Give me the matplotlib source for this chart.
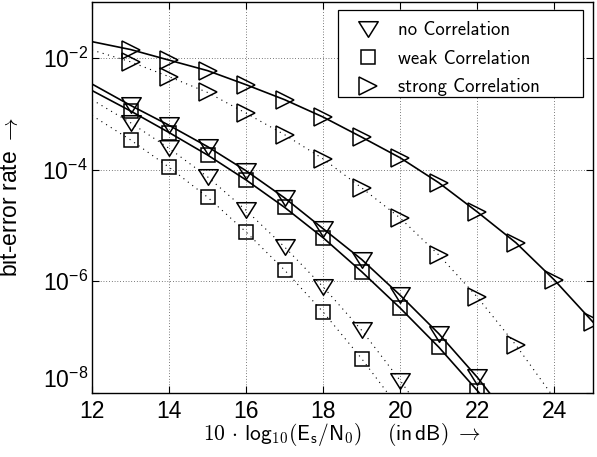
import numpy as np
import matplotlib
matplotlib.use('Agg')
import matplotlib.pyplot as plt
from matplotlib.lines import Line2D
from matplotlib.path import Path
from matplotlib.patches import Rectangle

plt.rcParams['mathtext.fontset'] = 'cm'

# ---------------- data (bit-error rate) ----------------
# strong correlation
x_strong_solid = [13, 14, 15, 16, 17, 18, 19, 20, 21, 22, 23, 24, 25]
ber_strong_solid = [1.41e-2, 9.1e-3, 5.9e-3, 3.3e-3, 1.78e-3, 8.7e-4, 3.8e-4,
                    1.62e-4, 5.8e-5, 1.74e-5, 4.9e-6, 1.05e-6, 1.86e-7]
xl_strong_solid = [12] + x_strong_solid
bl_strong_solid = [1.95e-2] + ber_strong_solid

x_strong_dot = [13, 14, 15, 16, 17, 18, 19, 20, 21, 22, 23]
ber_strong_dot = [8.5e-3, 4.6e-3, 2.4e-3, 1.02e-3, 4.2e-4, 1.55e-4, 4.7e-5,
                  1.35e-5, 2.95e-6, 5.2e-7, 7.2e-8]
xl_strong_dot = [12] + x_strong_dot + [24]
bl_strong_dot = [1.38e-2] + ber_strong_dot + [8e-9]

# no correlation
x_no_solid = [13, 14, 15, 16, 17, 18, 19, 20, 21, 22]
ber_no_solid = [1.41e-3, 6.2e-4, 2.57e-4, 9.5e-5, 3.1e-5, 8.7e-6, 2.45e-6,
                5.6e-7, 1.15e-7, 1.9e-8]
xl_no_solid = [12] + x_no_solid + [23]
bl_no_solid = [3.4e-3] + ber_no_solid + [2.5e-9]

x_no_dot = [13, 14, 15, 16, 17, 18, 19, 20]
ber_no_dot = [6.9e-4, 2.4e-4, 7.4e-5, 1.86e-5, 4.1e-6, 7.9e-7, 1.32e-7, 1.66e-8]
xl_no_dot = [12] + x_no_dot + [21]
bl_no_dot = [1.78e-3] + ber_no_dot + [1.8e-9]

# weak correlation
x_weak_solid = [13, 14, 15, 16, 17, 18, 19, 20, 21, 22]
ber_weak_solid = [1.12e-3, 4.6e-4, 1.82e-4, 6.5e-5, 2.1e-5, 6.0e-6, 1.48e-6,
                  3.3e-7, 6.6e-8, 1.1e-8]
xl_weak_solid = [12] + x_weak_solid + [23]
bl_weak_solid = [2.6e-3] + ber_weak_solid + [1.6e-9]

x_weak_dot = [13, 14, 15, 16, 17, 18, 19]
ber_weak_dot = [3.4e-4, 1.1e-4, 3.2e-5, 7.6e-6, 1.58e-6, 2.8e-7, 4.1e-8]
xl_weak_dot = [12] + x_weak_dot + [20]
bl_weak_dot = [9.3e-4] + ber_weak_dot + [5e-9]

legend_labels = ['no Correlation', 'weak Correlation', 'strong Correlation']
x_ticks = [12, 14, 16, 18, 20, 22, 24]
y_ticks = [1e-8, 1e-6, 1e-4, 1e-2]

# ---------------- styles ----------------
tri_down = Path([(-1, 0.8), (1, 0.8), (0, -0.8), (-1, 0.8)],
                [Path.MOVETO, Path.LINETO, Path.LINETO, Path.CLOSEPOLY])
mk = {
    'no': dict(marker=tri_down, ms=14),
    'weak': dict(marker='s', ms=10),
    'strong': dict(marker='>', ms=13.5),
}
mcommon = dict(ls='none', mfc='none', mec='k', mew=1.1)
solid = dict(color='k', lw=1.2, ls='-')
dotted = dict(color='k', lw=0.8, ls=(0, (1, 4)))

W, H = 597, 457
fig = plt.figure(figsize=(W / 100, H / 100), dpi=100)
AX_L, AX_R, AX_T, AX_B = 92, 593, 2, 393
ax = fig.add_axes([AX_L / W, 1 - AX_B / H, (AX_R - AX_L) / W, (AX_B - AX_T) / H])


def ax_x(px):
    return (px - AX_L) / (AX_R - AX_L)


def ax_y(py):
    return (AX_B - py) / (AX_B - AX_T)


ax.set_yscale('log')
ax.set_xlim(12, 25)
ax.set_ylim(1e-8, 1e-1)

# lines
ax.plot(xl_strong_solid, bl_strong_solid, **solid)
ax.plot(xl_strong_dot, bl_strong_dot, **dotted)
ax.plot(xl_no_solid, bl_no_solid, **solid)
ax.plot(xl_no_dot, bl_no_dot, **dotted)
ax.plot(xl_weak_solid, bl_weak_solid, **solid)
ax.plot(xl_weak_dot, bl_weak_dot, **dotted)

# markers
ax.plot(x_strong_solid, ber_strong_solid, **mk['strong'], **mcommon)
ax.plot(x_strong_dot, ber_strong_dot, **mk['strong'], **mcommon)
ax.plot(x_no_solid, ber_no_solid, **mk['no'], **mcommon)
ax.plot(x_no_dot, ber_no_dot, **mk['no'], **mcommon)
ax.plot(x_weak_solid, ber_weak_solid, **mk['weak'], **mcommon)
ax.plot(x_weak_dot, ber_weak_dot, **mk['weak'], **mcommon)

# axes styling
ax.set_xticks(x_ticks)
ax.set_yticks(y_ticks)
ax.minorticks_off()
ax.tick_params(direction='in', length=5, width=0.8, top=True, right=True,
               labelsize=16.5, pad=5)
ax.tick_params(axis='y', pad=3)
for lab in ax.get_xticklabels() + ax.get_yticklabels():
    lab.set_fontfamily(['Liberation Sans', 'DejaVu Sans'])
ax.yaxis.get_major_ticks()[0].label1.set_va('bottom')
for sp in ax.spines.values():
    sp.set_linewidth(1.0)
ax.grid(True, color='k', lw=0.5, ls=(0, (1, 3)))

ax.set_ylabel(r'bit-error rate $\rightarrow$', fontsize=16.5,
              fontfamily=['Liberation Sans', 'DejaVu Sans'])
ax.yaxis.set_label_coords(ax_x(22), 0.5)
ax.set_xlabel(r'$\mathsf{10}\,\cdot\,\mathsf{log}_{\mathsf{10}}(\mathsf{E}_{\mathsf{s}}/\mathsf{N}_{\mathsf{0}})'
              r'\quad\ (\mathsf{in}\,\mathsf{dB})\ \rightarrow$', fontsize=15.5, va='center')
ax.xaxis.set_label_coords(0.5, ax_y(435))

# legend (frame drawn as a separate box so its width matches the reference)
frame = Rectangle((ax_x(338), ax_y(97)), ax_x(583) - ax_x(338), ax_y(10) - ax_y(97),
                  transform=ax.transAxes, facecolor='white', edgecolor='k',
                  lw=0.9, zorder=4.9)
ax.add_patch(frame)
handles = [Line2D([], [], **mk[k], **mcommon) for k in ['no', 'weak', 'strong']]
leg = ax.legend(handles, legend_labels, loc='upper left',
                bbox_to_anchor=(ax_x(341.75), ax_y(13.75)), borderaxespad=0,
                frameon=False,
                prop={'family': 'cmss10', 'size': 13.5},
                handlelength=2.0, borderpad=0.4, handletextpad=0.6,
                labelspacing=0.56)

fig.savefig('out.png', dpi=100)
